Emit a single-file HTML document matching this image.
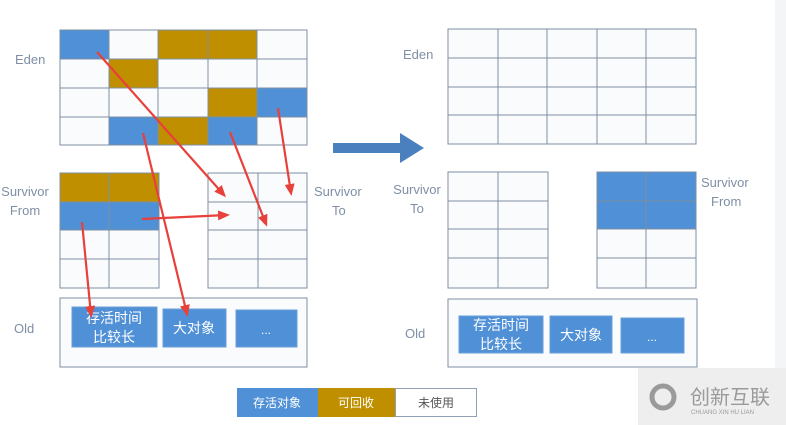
<!DOCTYPE html>
<html><head><meta charset="utf-8"><style>
html,body{margin:0;padding:0;background:#fff;}
svg{display:block;}
text{font-family:"Liberation Sans","Noto Sans CJK SC",sans-serif;}
</style></head><body>
<svg width="786" height="425" viewBox="0 0 786 425" xmlns="http://www.w3.org/2000/svg">
<defs>
<marker id="ah" markerWidth="12" markerHeight="10" refX="9" refY="5" orient="auto" markerUnits="userSpaceOnUse">
<path d="M0,0 L12,5 L0,10 Z" fill="#e8403a"/>
</marker>
</defs>
<rect width="786" height="425" fill="#fff"/>
<rect x="775" y="0" width="11" height="368" fill="#f4f5f7"/>
<g fill="#fafbfd" stroke="#7d8fa3" stroke-width="1">
<rect x="60" y="30" width="49" height="29" fill="#4f90d6"/><rect x="109" y="30" width="49" height="29"/><rect x="158" y="30" width="50" height="29" fill="#bf8f00"/><rect x="208" y="30" width="49" height="29" fill="#bf8f00"/><rect x="257" y="30" width="50" height="29"/>
<rect x="60" y="59" width="49" height="29"/><rect x="109" y="59" width="49" height="29" fill="#bf8f00"/><rect x="158" y="59" width="50" height="29"/><rect x="208" y="59" width="49" height="29"/><rect x="257" y="59" width="50" height="29"/>
<rect x="60" y="88" width="49" height="29"/><rect x="109" y="88" width="49" height="29"/><rect x="158" y="88" width="50" height="29"/><rect x="208" y="88" width="49" height="29" fill="#bf8f00"/><rect x="257" y="88" width="50" height="29" fill="#4f90d6"/>
<rect x="60" y="117" width="49" height="28"/><rect x="109" y="117" width="49" height="28" fill="#4f90d6"/><rect x="158" y="117" width="50" height="28" fill="#bf8f00"/><rect x="208" y="117" width="49" height="28" fill="#4f90d6"/><rect x="257" y="117" width="50" height="28"/>
<rect x="60" y="173" width="49" height="29" fill="#bf8f00"/><rect x="109" y="173" width="50" height="29" fill="#bf8f00"/>
<rect x="60" y="202" width="49" height="28" fill="#4f90d6"/><rect x="109" y="202" width="50" height="28" fill="#4f90d6"/>
<rect x="60" y="230" width="49" height="29"/><rect x="109" y="230" width="50" height="29"/>
<rect x="60" y="259" width="49" height="29"/><rect x="109" y="259" width="50" height="29"/>
<rect x="208" y="173" width="50" height="29"/><rect x="258" y="173" width="49" height="29"/>
<rect x="208" y="202" width="50" height="28"/><rect x="258" y="202" width="49" height="28"/>
<rect x="208" y="230" width="50" height="29"/><rect x="258" y="230" width="49" height="29"/>
<rect x="208" y="259" width="50" height="29"/><rect x="258" y="259" width="49" height="29"/>
<rect x="60" y="298" width="247" height="69"/>
<rect x="448" y="29" width="50" height="29"/><rect x="498" y="29" width="49" height="29"/><rect x="547" y="29" width="50" height="29"/><rect x="597" y="29" width="49" height="29"/><rect x="646" y="29" width="50" height="29"/>
<rect x="448" y="58" width="50" height="29"/><rect x="498" y="58" width="49" height="29"/><rect x="547" y="58" width="50" height="29"/><rect x="597" y="58" width="49" height="29"/><rect x="646" y="58" width="50" height="29"/>
<rect x="448" y="87" width="50" height="28"/><rect x="498" y="87" width="49" height="28"/><rect x="547" y="87" width="50" height="28"/><rect x="597" y="87" width="49" height="28"/><rect x="646" y="87" width="50" height="28"/>
<rect x="448" y="115" width="50" height="29"/><rect x="498" y="115" width="49" height="29"/><rect x="547" y="115" width="50" height="29"/><rect x="597" y="115" width="49" height="29"/><rect x="646" y="115" width="50" height="29"/>
<rect x="448" y="172" width="50" height="29"/><rect x="498" y="172" width="50" height="29"/>
<rect x="448" y="201" width="50" height="28"/><rect x="498" y="201" width="50" height="28"/>
<rect x="448" y="229" width="50" height="29"/><rect x="498" y="229" width="50" height="29"/>
<rect x="448" y="258" width="50" height="30"/><rect x="498" y="258" width="50" height="30"/>
<rect x="597" y="172" width="49" height="29" fill="#4f90d6"/><rect x="646" y="172" width="50" height="29" fill="#4f90d6"/>
<rect x="597" y="201" width="49" height="28" fill="#4f90d6"/><rect x="646" y="201" width="50" height="28" fill="#4f90d6"/>
<rect x="597" y="229" width="49" height="29"/><rect x="646" y="229" width="50" height="29"/>
<rect x="597" y="258" width="49" height="30"/><rect x="646" y="258" width="50" height="30"/>
<rect x="448" y="299" width="249" height="68"/>
</g>
<g fill="#4f90d6" stroke="#6a9fd8">
<rect x="72" y="307" width="85" height="40"/><rect x="163" y="309" width="63" height="38"/><rect x="236" y="310" width="61" height="37"/>
<rect x="459" y="316" width="84" height="37"/><rect x="550" y="316" width="62" height="37"/><rect x="621" y="318" width="63" height="35"/>
</g>
<g fill="#fff" font-size="14" text-anchor="middle">
<text x="114" y="323">存活时间</text><text x="114" y="342">比较长</text>
<text x="194" y="333">大对象</text><text x="266" y="334" font-size="12">...</text>
<text x="501" y="330">存活时间</text><text x="501" y="349">比较长</text>
<text x="581" y="340">大对象</text><text x="652" y="341" font-size="12">...</text>
</g>
<g fill="#7f8fa6" font-size="13">
<text x="15" y="64">Eden</text>
<text x="25" y="196" text-anchor="middle">Survivor</text><text x="25" y="215" text-anchor="middle">From</text>
<text x="314" y="196">Survivor</text><text x="332" y="215">To</text>
<text x="14" y="333">Old</text>
<text x="403" y="59">Eden</text>
<text x="417" y="194" text-anchor="middle">Survivor</text><text x="417" y="213" text-anchor="middle">To</text>
<text x="701" y="187">Survivor</text><text x="711" y="206">From</text>
<text x="405" y="338">Old</text>
</g>
<path d="M333,143 L400,143 L400,133 L424,148 L400,163 L400,153 L333,153 Z" fill="#4a80bd"/>
<g stroke="#e8403a" stroke-width="2.2" fill="none" marker-end="url(#ah)">
<line x1="97" y1="52" x2="224" y2="195"/>
<line x1="143" y1="133" x2="187" y2="314"/>
<line x1="230" y1="132" x2="266" y2="224"/>
<line x1="278" y1="108" x2="291" y2="193"/>
<line x1="142" y1="219" x2="227" y2="215"/>
<line x1="82" y1="222" x2="91" y2="315"/>
</g>
<rect x="237" y="388" width="81" height="29" fill="#4f90d6"/>
<rect x="318" y="388" width="77" height="29" fill="#bf8f00"/>
<rect x="395.5" y="388.5" width="81" height="28" fill="#fff" stroke="#8fa0b5"/>
<g font-size="12" text-anchor="middle">
<text x="277" y="407" fill="#fff">存活对象</text>
<text x="356" y="407" fill="#fff">可回收</text>
<text x="436" y="407" fill="#555">未使用</text>
</g>
<rect x="638" y="368" width="148" height="57" fill="#eeeeee"/>
<circle cx="663" cy="397" r="11" fill="none" stroke="#9a9a9a" stroke-width="5"/>
<text x="690" y="404" font-size="20" fill="#9a9a9a">创新互联</text>
<text x="691" y="414" font-size="6" fill="#9a9a9a">CHUANG XIN HU LIAN</text>
</svg>
</body></html>
